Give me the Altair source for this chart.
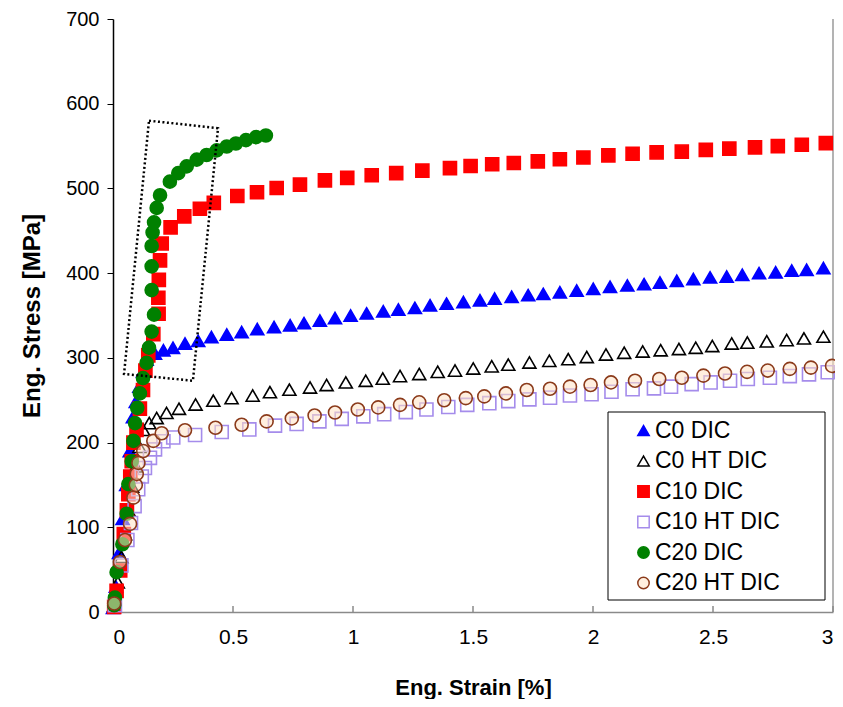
import altair as alt
import pandas as pd

# ---------------- data ----------------
series_names = ["C0 DIC", "C0 HT DIC", "C10 DIC", "C10 HT DIC", "C20 DIC", "C20 HT DIC"]

c0_strain = [0.0, 0.012, 0.025, 0.04, 0.055, 0.07, 0.083, 0.095, 0.11, 0.125, 0.14,
             0.175, 0.21, 0.25, 0.30, 0.355, 0.41, 0.474, 0.536, 0.601, 0.671,
             0.738, 0.796, 0.862, 0.925, 0.99, 1.057, 1.126, 1.189, 1.258, 1.321,
             1.39, 1.46, 1.529, 1.59, 1.661, 1.73, 1.793, 1.862, 1.932, 2.001,
             2.071, 2.143, 2.213, 2.279, 2.349, 2.418, 2.488, 2.557, 2.622, 2.692,
             2.761, 2.828, 2.89, 2.96]
c0_stress = [5, 30, 70, 110, 150, 190, 230, 248, 266, 284, 298,
             305, 309, 312, 317, 320, 324.5, 327.5, 330.5, 334, 336.5,
             338.5, 341, 344, 347, 350, 352.5, 355, 357, 359, 362,
             364, 366, 368, 370, 372, 374, 375.5, 377.5, 379.5, 381.5,
             384, 385.5, 387, 389, 391, 393, 395, 396, 398, 400,
             401, 403, 404, 406]

c0ht_strain = [0.005, 0.02, 0.035, 0.05, 0.065, 0.08, 0.095, 0.11, 0.126, 0.151,
               0.182, 0.223, 0.275, 0.344, 0.418, 0.494, 0.582, 0.654, 0.735, 0.821,
               0.89, 0.97, 1.053, 1.124, 1.196, 1.276, 1.353, 1.425, 1.501, 1.578,
               1.647, 1.735, 1.818, 1.897, 1.974, 2.054, 2.13, 2.207, 2.282, 2.358,
               2.428, 2.497, 2.578, 2.643, 2.724, 2.807, 2.879, 2.96]
c0ht_stress = [8, 35, 65, 92, 120, 148, 172, 195, 215, 223,
               229, 235, 240, 245, 249.5, 252.5, 255.5, 259.5, 262.5, 265,
               268, 271, 273, 275.5, 278.5, 281, 283.5, 285, 287.5, 290,
               292, 294.5, 296.5, 298.5, 301, 304, 306, 307.5, 309, 310.5,
               312, 314, 317, 318, 319.5, 321, 323, 325]

c10_strain = [0.005, 0.015, 0.03, 0.045, 0.058, 0.064, 0.072, 0.078, 0.085, 0.098,
              0.112, 0.125, 0.135, 0.147, 0.168, 0.19, 0.189, 0.191, 0.196, 0.203,
              0.24, 0.297, 0.362, 0.42, 0.518, 0.6, 0.682, 0.779, 0.883, 0.976,
              1.078, 1.18, 1.289, 1.404, 1.49, 1.58, 1.67, 1.77, 1.862, 1.96,
              2.064, 2.165, 2.265, 2.37, 2.47, 2.568, 2.675, 2.77, 2.87, 2.97]
c10_stress = [6, 25, 49, 92, 120, 139, 160, 178, 200, 215,
              240, 262, 285, 303, 328, 352, 371, 392, 415, 435,
              454, 467, 476, 483, 491, 495.5, 500.5, 504.5, 509.5, 512.5,
              515.5, 518, 521, 524, 526.5, 528.5, 530, 532, 534.5, 536.5,
              539, 541, 542.5, 543.5, 545.5, 547, 548.5, 550, 551.5, 553.5]

c10ht_strain = [0.008, 0.035, 0.06, 0.075, 0.09, 0.105, 0.12, 0.133, 0.154, 0.175,
                0.21, 0.251, 0.342, 0.453, 0.568, 0.675, 0.765, 0.86, 0.953, 1.043,
                1.13, 1.22, 1.306, 1.397, 1.476, 1.568, 1.647, 1.735, 1.821, 1.904,
                1.994, 2.077, 2.165, 2.254, 2.325, 2.411, 2.49, 2.571, 2.645, 2.737,
                2.82, 2.9, 2.978]
c10ht_stress = [8, 55, 85, 105, 125, 145, 160, 170, 182, 192,
                201.5, 206, 209, 212.5, 215.5, 220, 222, 225, 228, 231,
                233.5, 236, 239, 242, 244.5, 246.5, 249, 251, 253, 255.5,
                257, 260, 263, 264, 266, 269, 271, 273, 275, 276.5,
                278.5, 280.5, 283]

c20_strain = [0.005, 0.008, 0.015, 0.039, 0.057, 0.064, 0.078, 0.085, 0.092, 0.101,
              0.112, 0.125, 0.14, 0.15, 0.161, 0.171, 0.161, 0.161, 0.161, 0.165,
              0.171, 0.182, 0.196, 0.237, 0.272, 0.307, 0.349, 0.39, 0.432, 0.474,
              0.512, 0.554, 0.596, 0.637]
c20_stress = [8, 17, 47, 80, 116, 151, 178, 202, 223, 241,
              258, 276, 294, 312, 331, 351, 380, 408, 432, 448,
              460, 477, 492, 508, 518, 526, 534, 539.5, 545, 549.5,
              553, 557, 560.5, 562.5]

c20ht_strain = [0.005, 0.029, 0.05, 0.071, 0.085, 0.095, 0.099, 0.106, 0.126, 0.168,
                0.203, 0.3, 0.427, 0.536, 0.64, 0.745, 0.84, 0.925, 1.02, 1.105,
                1.196, 1.276, 1.38, 1.47, 1.547, 1.637, 1.724, 1.821, 1.904, 1.99,
                2.075, 2.175, 2.276, 2.37, 2.46, 2.55, 2.642, 2.728, 2.82, 2.908,
                2.996]
c20ht_stress = [10, 59, 85, 104, 135, 150, 163, 176, 190, 202,
                211, 214.5, 217.5, 221, 225, 228.5, 232, 235.5, 239, 241.5,
                244.5, 247.5, 250, 252.5, 254.5, 258, 262, 263.5, 266, 268,
                271, 273, 275, 276.5, 279, 281.5, 283.5, 285, 287, 288.5,
                290.5]

# dotted annotation box (data coordinates)
box_strain = [0.15, 0.4375, 0.333, 0.046, 0.15]
box_stress = [580, 571, 273, 281, 580]

x_ticks = [0, 0.5, 1, 1.5, 2, 2.5, 3]
y_ticks = [0, 100, 200, 300, 400, 500, 600, 700]

# ---------------- styling ----------------
shapes = ["triangle-up", "triangle-up", "square", "square", "circle", "circle"]
strokes = ["#0000FF", "#000000", "#FF0000", "#A58CEB", "#008000", "#8B3A1A"]
fills = ["#0000FF", "transparent", "#FF0000", "transparent", "#008000",
         "rgba(255,226,196,0.55)"]

FONT = "Liberation Sans"
W, H = 720, 593

strains = [c0_strain, c0ht_strain, c10_strain, c10ht_strain, c20_strain, c20ht_strain]
stresses = [c0_stress, c0ht_stress, c10_stress, c10ht_stress, c20_stress, c20ht_stress]
frames = []
for name, xs, ys in zip(series_names, strains, stresses):
    assert len(xs) == len(ys), name
    frames.append(pd.DataFrame({"series": name, "strain": xs, "stress": ys}))
df = pd.concat(frames, ignore_index=True)

box_df = pd.DataFrame({"strain": box_strain, "stress": box_stress,
                       "order": list(range(len(box_strain)))})
tick_df = pd.DataFrame({"strain": x_ticks[1:]})
one = pd.DataFrame({"a": [0]})

x_scale = alt.Scale(domain=[0, 3], nice=False, zero=False)
y_scale = alt.Scale(domain=[0, 700], nice=False)

x_axis = alt.Axis(values=x_ticks, format="~g", labelFontSize=21, labelFont=FONT,
                  labelColor="black", tickSize=0, labelPadding=14,
                  domainColor="#8a8a8a", domainWidth=1.5, grid=False,
                  titleFontSize=22, titleFont=FONT, titleFontWeight="bold",
                  titleColor="black", titlePadding=30)
y_axis = alt.Axis(values=y_ticks, labelFontSize=20, labelFont=FONT,
                  labelColor="black", tickSize=6, tickColor="black", labelPadding=8,
                  domainColor="black", domainWidth=1.5, grid=False,
                  titleFontSize=24, titleFont=FONT, titleFontWeight="bold",
                  titleColor="black", titlePadding=21)

legend = alt.Legend(title=None, orient="none", legendX=495, legendY=391,
                    labelFontSize=23, labelFont=FONT, labelColor="black",
                    symbolSize=130, symbolStrokeWidth=1.5, rowPadding=6.5,
                    padding=9, symbolOffset=15, labelOffset=0)

legend_box = alt.Chart(one).mark_rect(fill="white", stroke="black", strokeWidth=1).encode(
    x=alt.value(495), x2=alt.value(712), y=alt.value(393), y2=alt.value(581))

right_border = alt.Chart(one).mark_rule(color="#9a9a9a", strokeWidth=1.5).encode(
    x=alt.value(W), y=alt.value(0), y2=alt.value(H))

inner_ticks = alt.Chart(tick_df).mark_rule(color="#8a8a8a", strokeWidth=1.5).encode(
    x=alt.X("strain:Q", scale=x_scale, axis=x_axis, title="Eng. Strain [%]"),
    y=alt.value(H), y2=alt.value(H - 6))

points = alt.Chart(df).mark_point(size=170, strokeWidth=1.6, opacity=1).encode(
    x=alt.X("strain:Q", scale=x_scale, axis=x_axis, title="Eng. Strain [%]"),
    y=alt.Y("stress:Q", scale=y_scale, axis=y_axis, title="Eng. Stress [MPa]"),
    shape=alt.Shape("series:N", scale=alt.Scale(domain=series_names, range=shapes),
                    legend=legend),
    stroke=alt.Stroke("series:N", scale=alt.Scale(domain=series_names, range=strokes),
                      legend=legend),
    fill=alt.Fill("series:N", scale=alt.Scale(domain=series_names, range=fills),
                  legend=legend),
)

box = alt.Chart(box_df).mark_line(color="black", strokeWidth=2.5,
                                  strokeDash=[2, 2.5]).encode(
    x=alt.X("strain:Q", scale=x_scale),
    y=alt.Y("stress:Q", scale=y_scale),
    order="order:Q",
)

chart = alt.layer(legend_box, right_border, inner_ticks, points, box).properties(
    width=W, height=H,
    padding={"left": 105, "top": 11, "right": 2, "bottom": 87},
    autosize=alt.AutoSizeParams(type="none"),
    background="white",
).configure_view(stroke=None)

chart.save("out.html", embed_options={"renderer": "svg", "actions": False})
